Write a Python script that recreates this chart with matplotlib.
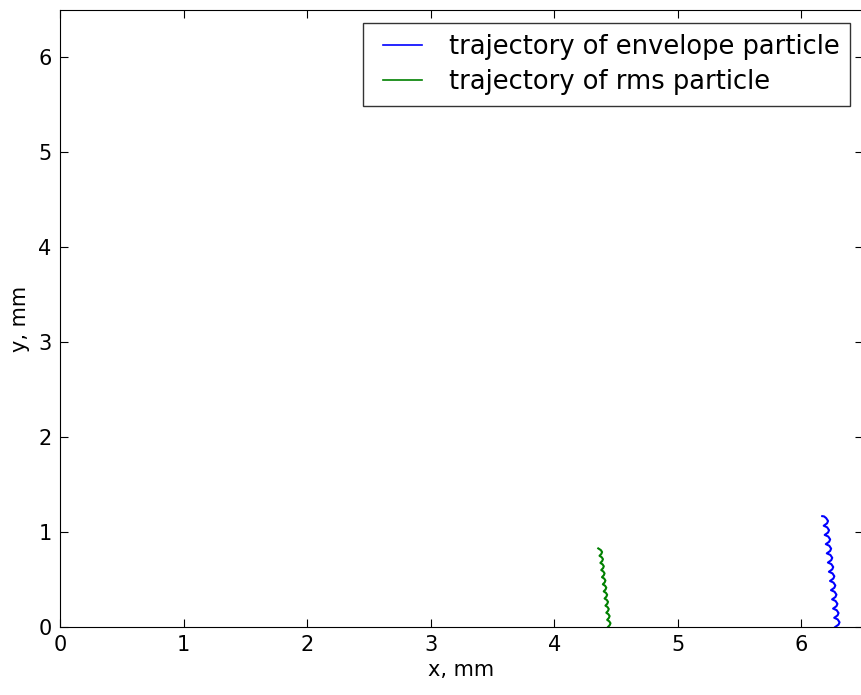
import matplotlib.pyplot as plt
from matplotlib.legend_handler import HandlerLine2D

# particle trajectories (x, y in mm)
env_x = [6.275, 6.302, 6.310, 6.295,
         6.267, 6.294, 6.302, 6.287,
         6.258, 6.285, 6.293, 6.278,
         6.250, 6.277, 6.285, 6.270,
         6.241, 6.268, 6.276, 6.261,
         6.233, 6.260, 6.268, 6.253,
         6.224, 6.251, 6.259, 6.244,
         6.216, 6.243, 6.251, 6.236,
         6.207, 6.234, 6.242, 6.227,
         6.199, 6.226, 6.234, 6.219,
         6.190, 6.217, 6.225, 6.210,
         6.182, 6.209, 6.217, 6.202,
         6.185, 6.170]
env_y = [0.000, 0.025, 0.050, 0.080,
         0.097, 0.122, 0.147, 0.177,
         0.194, 0.219, 0.244, 0.274,
         0.291, 0.316, 0.341, 0.371,
         0.388, 0.413, 0.438, 0.468,
         0.485, 0.510, 0.535, 0.565,
         0.582, 0.607, 0.632, 0.662,
         0.679, 0.704, 0.729, 0.759,
         0.776, 0.801, 0.826, 0.856,
         0.873, 0.898, 0.923, 0.953,
         0.970, 0.995, 1.020, 1.050,
         1.067, 1.092, 1.117, 1.147,
         1.165, 1.168]

rms_x = [4.436, 4.450, 4.456, 4.446,
         4.429, 4.443, 4.449, 4.439,
         4.422, 4.436, 4.442, 4.432,
         4.415, 4.430, 4.436, 4.426,
         4.408, 4.423, 4.429, 4.419,
         4.401, 4.416, 4.422, 4.412,
         4.394, 4.409, 4.415, 4.405,
         4.387, 4.402, 4.408, 4.398,
         4.381, 4.396, 4.402, 4.392,
         4.374, 4.389, 4.395, 4.385,
         4.367, 4.382, 4.388, 4.378,
         4.364, 4.357]
rms_y = [0.000, 0.020, 0.040, 0.060,
         0.075, 0.095, 0.115, 0.135,
         0.150, 0.170, 0.190, 0.210,
         0.225, 0.245, 0.265, 0.285,
         0.300, 0.320, 0.340, 0.360,
         0.375, 0.395, 0.415, 0.435,
         0.450, 0.470, 0.490, 0.510,
         0.525, 0.545, 0.565, 0.585,
         0.600, 0.620, 0.640, 0.660,
         0.675, 0.695, 0.715, 0.735,
         0.750, 0.770, 0.790, 0.810,
         0.822, 0.828]

fig = plt.figure(figsize=(8.61, 6.95), dpi=100)
ax = fig.add_axes([60 / 861, 1 - 627 / 695, 803 / 861, 617 / 695])

ax.plot(env_x, env_y, color='b', linewidth=1.5, label='trajectory of envelope particle')
ax.plot(rms_x, rms_y, color='g', linewidth=1.5, label='trajectory of rms particle')

ax.set_xlim(0, 6.5)
ax.set_ylim(0, 6.5)
ax.set_xticks(range(7))
ax.set_yticks(range(7))
ax.tick_params(direction='in', top=True, right=True, length=6, labelsize=15, pad=6)
ax.set_xlabel('x, mm', fontsize=15, labelpad=3)
ax.set_ylabel('y, mm', fontsize=15, labelpad=6)

leg = ax.legend(loc='upper right', fontsize=18.5, fancybox=False, handlelength=1.85,
                handletextpad=1.05, borderaxespad=0.5, borderpad=0.42,
                labelspacing=0.38, handler_map={plt.Line2D: HandlerLine2D(xpad=0.35)})
leg.get_frame().set_edgecolor('black')
leg.get_frame().set_linewidth(1.0)
for line in leg.get_lines():
    line.set_linewidth(1.2)

fig.savefig('out.png', dpi=100)
